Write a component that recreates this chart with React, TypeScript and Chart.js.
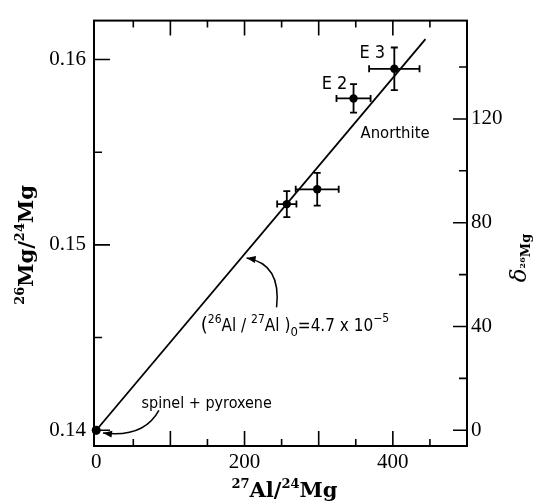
import React, { useEffect, useRef } from 'react';
import { Chart, registerables } from 'chart.js';
Chart.register(...registerables);

// ---- data ----
const sampleNames = ['spinel + pyroxene', '', '', 'E2', 'E3'];
const alMg = [0, 257, 298, 347, 402];
const mgRatio = [0.14, 0.1522, 0.153, 0.1579, 0.1595];
const alErr = [0, 13, 29, 23, 34];
const mgErr = [0, 0.0007, 0.00088, 0.00077, 0.00115];

const fitAl = [0, 444];
const fitMg = [0.14, 0.1611];

const xTickLabels = [0, 200, 400];
const yTickLabels = [0.14, 0.15, 0.16];
const deltaTickLabels = [0, 40, 80, 120];
const xTickMarks = [50, 100, 150, 200, 250, 300, 350, 400, 450];
const yTickMarks = [0.14, 0.145, 0.15, 0.155, 0.16];
const deltaTickMarks = [0, 20, 40, 60, 80, 100, 120, 140];

// annotation anchors in data units
const anorthiteAt = [403, 0.15602];
const spinelAt = [149, 0.14145];
const slopeAt = [141, 0.14534];
const arrow1 = [[243.2, 0.14663], [249.9, 0.14897], [202.8, 0.14929]];
const arrow2 = [[84.5, 0.14107], [64.3, 0.13958], [9.1, 0.13985]];

const TICK_FONT = '"Liberation Serif", "Times New Roman", serif';
const TITLE_FONT = '"DejaVu Serif", serif';
const ANNOT_FONT = '"DejaVu Sans Condensed", "DejaVu Sans", sans-serif';

type Run = { t: string; size: number; dy: number; font?: string; weight?: string; style?: string };

function setRunFont(ctx: CanvasRenderingContext2D, r: Run) {
  ctx.font = `${r.style || 'normal'} ${r.weight || 'normal'} ${r.size}px ${r.font || ANNOT_FONT}`;
}

function runsWidth(ctx: CanvasRenderingContext2D, runs: Run[]) {
  let total = 0;
  for (const r of runs) { setRunFont(ctx, r); total += ctx.measureText(r.t).width; }
  return total;
}

function drawRuns(ctx: CanvasRenderingContext2D, runs: Run[], x: number, y: number, align: 'left' | 'center' = 'left') {
  const total = runsWidth(ctx, runs);
  let cx = align === 'center' ? x - total / 2 : x;
  ctx.textAlign = 'left';
  ctx.textBaseline = 'alphabetic';
  for (const r of runs) {
    setRunFont(ctx, r);
    ctx.fillText(r.t, cx, y + r.dy);
    cx += ctx.measureText(r.t).width;
  }
  return total;
}

const decorPlugin = {
  id: 'decor',
  beforeDatasetsDraw(chart: any) {
    const { ctx, scales } = chart;
    const xs = scales.x, ys = scales.y;
    ctx.save();
    ctx.strokeStyle = '#000';
    ctx.lineWidth = 1.8;
    const cap = 3.5;
    for (let i = 0; i < alMg.length; i++) {
      const px = xs.getPixelForValue(alMg[i]);
      const py = ys.getPixelForValue(mgRatio[i]);
      if (alErr[i] > 0) {
        const x1 = xs.getPixelForValue(alMg[i] - alErr[i]);
        const x2 = xs.getPixelForValue(alMg[i] + alErr[i]);
        ctx.beginPath();
        ctx.moveTo(x1, py); ctx.lineTo(x2, py);
        ctx.moveTo(x1, py - cap); ctx.lineTo(x1, py + cap);
        ctx.moveTo(x2, py - cap); ctx.lineTo(x2, py + cap);
        ctx.stroke();
      }
      if (mgErr[i] > 0) {
        const y1 = ys.getPixelForValue(mgRatio[i] - mgErr[i]);
        const y2 = ys.getPixelForValue(mgRatio[i] + mgErr[i]);
        ctx.beginPath();
        ctx.moveTo(px, y1); ctx.lineTo(px, y2);
        ctx.moveTo(px - cap, y1); ctx.lineTo(px + cap, y1);
        ctx.moveTo(px - cap, y2); ctx.lineTo(px + cap, y2);
        ctx.stroke();
      }
    }
    ctx.restore();
  },
  afterDraw(chart: any) {
    const { ctx, chartArea: a, scales } = chart;
    const xs = scales.x, ys = scales.y, ds = scales.y2;
    ctx.save();
    ctx.strokeStyle = '#000';
    ctx.fillStyle = '#000';
    // frame
    ctx.lineWidth = 2;
    ctx.strokeRect(a.left, a.top, a.right - a.left, a.bottom - a.top);
    // tick marks (inward)
    ctx.lineWidth = 1.6;
    ctx.beginPath();
    for (const v of xTickMarks) {
      const p = xs.getPixelForValue(v);
      const len = v % 100 === 0 ? 15 : 7;
      ctx.moveTo(p, a.bottom); ctx.lineTo(p, a.bottom - len);
      ctx.moveTo(p, a.top); ctx.lineTo(p, a.top + len);
    }
    for (const v of yTickMarks) {
      const p = ys.getPixelForValue(v);
      const major = Math.abs(v * 100 - Math.round(v * 100)) < 1e-6;
      ctx.moveTo(a.left, p); ctx.lineTo(a.left + (major ? 16 : 8), p);
    }
    for (const v of deltaTickMarks) {
      const p = ds.getPixelForValue(v);
      ctx.moveTo(a.right, p); ctx.lineTo(a.right - (v % 40 === 0 ? 14 : 8), p);
    }
    ctx.stroke();

    // origin point drawn over the frame
    ctx.beginPath();
    ctx.arc(xs.getPixelForValue(alMg[0]), ys.getPixelForValue(mgRatio[0]), 4.5, 0, Math.PI * 2);
    ctx.fill();

    // sample labels near points
    ctx.font = `18px ${ANNOT_FONT}`;
    ctx.textAlign = 'center';
    ctx.textBaseline = 'middle';
    for (let i = 0; i < sampleNames.length; i++) {
      if (sampleNames[i] === 'E2' || sampleNames[i] === 'E3') {
        const px = xs.getPixelForValue(alMg[i]);
        const py = ys.getPixelForValue(mgRatio[i]);
        const off = sampleNames[i] === 'E3' ? [-22, -15] : [-19, -14];
        ctx.fillText(sampleNames[i].split('').join(' '), px + off[0], py + off[1]);
      }
    }
    ctx.font = `16.5px ${ANNOT_FONT}`;
    ctx.fillText('Anorthite', xs.getPixelForValue(anorthiteAt[0]), ys.getPixelForValue(anorthiteAt[1]));
    ctx.font = `16px ${ANNOT_FONT}`;
    ctx.fillText(sampleNames[0], xs.getPixelForValue(spinelAt[0]), ys.getPixelForValue(spinelAt[1]));

    // slope label
    drawRuns(ctx, [
      { t: '(', size: 20, dy: 0 },
      { t: '26', size: 12, dy: -8 },
      { t: 'Al / ', size: 17, dy: 0 },
      { t: '27', size: 12, dy: -8 },
      { t: 'Al )', size: 17, dy: 0 },
      { t: '0', size: 13, dy: 5 },
      { t: '=4.7 x 10', size: 17, dy: 0 },
      { t: '\u22125', size: 12, dy: -9 },
    ], xs.getPixelForValue(slopeAt[0]), ys.getPixelForValue(slopeAt[1]));

    // curved arrows
    const drawArrow = (pts: number[][]) => {
      const p = pts.map(q => [xs.getPixelForValue(q[0]), ys.getPixelForValue(q[1])]);
      ctx.lineWidth = 1.5;
      ctx.beginPath();
      ctx.moveTo(p[0][0], p[0][1]);
      ctx.quadraticCurveTo(p[1][0], p[1][1], p[2][0], p[2][1]);
      ctx.stroke();
      const ang = Math.atan2(p[2][1] - p[1][1], p[2][0] - p[1][0]);
      const L = 9, W = 3.5;
      const tx = p[2][0], ty = p[2][1];
      ctx.beginPath();
      ctx.moveTo(tx, ty);
      ctx.lineTo(tx - L * Math.cos(ang) + W * Math.sin(ang), ty - L * Math.sin(ang) - W * Math.cos(ang));
      ctx.lineTo(tx - L * Math.cos(ang) - W * Math.sin(ang), ty - L * Math.sin(ang) + W * Math.cos(ang));
      ctx.closePath();
      ctx.fill();
    };
    drawArrow(arrow1);
    drawArrow(arrow2);

    // axis titles
    const xTitle: Run[] = [
      { t: '27', size: 13, dy: -9, font: TITLE_FONT, weight: 'bold' },
      { t: 'Al/', size: 21, dy: 0, font: TITLE_FONT, weight: 'bold' },
      { t: '24', size: 13, dy: -9, font: TITLE_FONT, weight: 'bold' },
      { t: 'Mg', size: 21, dy: 0, font: TITLE_FONT, weight: 'bold' },
    ];
    drawRuns(ctx, xTitle, (a.left + a.right) / 2 + 4, 497, 'center');

    const yTitle: Run[] = [
      { t: '26', size: 13, dy: -9, font: TITLE_FONT, weight: 'bold' },
      { t: 'Mg/', size: 21, dy: 0, font: TITLE_FONT, weight: 'bold' },
      { t: '24', size: 13, dy: -9, font: TITLE_FONT, weight: 'bold' },
      { t: 'Mg', size: 21, dy: 0, font: TITLE_FONT, weight: 'bold' },
    ];
    const yw = runsWidth(ctx, yTitle);
    ctx.save();
    ctx.translate(33, 245 + yw / 2);
    ctx.rotate(-Math.PI / 2);
    drawRuns(ctx, yTitle, 0, 0);
    ctx.restore();

    const dTitle: Run[] = [
      { t: '\u03b4', size: 23, dy: 0, font: TITLE_FONT, style: 'italic' },
      { t: '26', size: 8, dy: -1, font: TITLE_FONT, weight: 'bold' },
      { t: 'Mg', size: 13, dy: 4, font: TITLE_FONT, weight: 'bold' },
    ];
    const dw = runsWidth(ctx, dTitle);
    ctx.save();
    ctx.translate(526, 258 + dw / 2);
    ctx.rotate(-Math.PI / 2);
    drawRuns(ctx, dTitle, 0, 0);
    ctx.restore();

    ctx.restore();
  },
};

export default function App() {
  const ref = useRef<HTMLCanvasElement>(null);
  useEffect(() => {
    document.body.style.margin = '0';
    const canvas = ref.current!;
    const tickFont = { family: TICK_FONT, size: 21 };
    const chart = new Chart(canvas, {
      type: 'scatter',
      data: {
        datasets: [
          {
            type: 'line',
            data: fitAl.map((x, i) => ({ x, y: fitMg[i] })),
            borderColor: '#000',
            borderWidth: 1.8,
            pointRadius: 0,
            fill: false,
            tension: 0,
          } as any,
          {
            data: alMg.map((x, i) => ({ x, y: mgRatio[i] })),
            backgroundColor: '#000',
            borderColor: '#000',
            pointRadius: 4.2,
            pointBorderWidth: 0,
            clip: false,
          } as any,
        ],
      },
      options: {
        responsive: false,
        animation: false,
        layout: { padding: { top: 16, left: 0, right: 0, bottom: 0 } },
        plugins: { legend: { display: false }, tooltip: { enabled: false } },
        scales: {
          x: {
            type: 'linear',
            min: -3,
            max: 500,
            grid: { display: false, drawTicks: false },
            border: { display: false },
            ticks: { font: tickFont, color: '#000', padding: 4 },
            afterBuildTicks: (s: any) => { s.ticks = xTickLabels.map(v => ({ value: v })); },
            afterFit: (s: any) => { s.height = 55; },
          },
          y: {
            type: 'linear',
            position: 'left',
            min: 0.13915,
            max: 0.1621,
            grid: { display: false, drawTicks: false },
            border: { display: false },
            ticks: { font: tickFont, color: '#000', padding: 8, callback: (v: any) => Number(v).toFixed(2) },
            afterBuildTicks: (s: any) => { s.ticks = yTickLabels.map(v => ({ value: v })); },
            afterFit: (s: any) => { s.width = 94; },
          },
          y2: {
            type: 'linear',
            position: 'right',
            min: -6.07,
            max: 157.9,
            grid: { display: false, drawTicks: false },
            border: { display: false },
            ticks: { font: tickFont, color: '#000', padding: 4 },
            afterBuildTicks: (s: any) => { s.ticks = deltaTickLabels.map(v => ({ value: v })); },
            afterFit: (s: any) => { s.width = 68; },
          },
        },
      },
      plugins: [decorPlugin],
    });
    return () => chart.destroy();
  }, []);
  return (
    <div style={{ width: 535, height: 501, background: '#fff' }}>
      <canvas ref={ref} width={535} height={501} />
    </div>
  );
}
